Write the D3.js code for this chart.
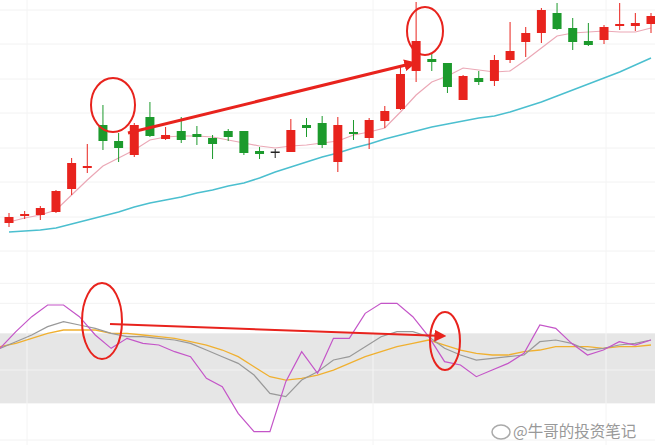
<!DOCTYPE html>
<html><head><meta charset="utf-8">
<script src="https://cdn.jsdelivr.net/npm/d3@7/dist/d3.min.js"></script>
<style>body{margin:0;background:#fff}svg{display:block}</style>
</head><body><svg id="c" width="655" height="445"></svg>
<script>
const open_  = [37,44,45,48,71,92,135,119,105,143,121,129,126,122,129,129,109,108.5,108,135,137,98,128,122,139,151,189,201,197,160,182,179,200,218,227,247,232,219,220,234,234,236];
const high   = [47,49,54,70,102,116,155,127,137,158,133,143,134,125,131,129,113,111,141,142,144,143,140,142,154,193,258,207,197,185,189,205,238,233,252,257,242,237,235,257,247,247];
const low    = [33,41,40,47,65,87,110,98,103,123,120,117,115,101,119,105,101,102,108,123,112,88,120,111,132,150,178,189,167,160,175,174,197,203,217,230,210,214,216,230,229,227];
const close_ = [43,46,52,69,97,94,119,112,135,124,125,120,123,116,123,107,106,108.5,130,132,115,135,126,140,149,186,219,198,173,184,178,200,209,227,250,231,218,215,233,236,237,244];
const maShort = [38,42,45,50,65,80,94,102,110,120,123,124,124,123,120,117,114,112,114,115,117,119,125,128,132,148,165,178,184,192,190,188,189,200,212,224,227,228,229,228,228,232];
const maLong  = [28,29,30,32,36,40,44,48,53,57,60,63,67,70,74,77,82,88,93,98,103,107,112,116,121,125,129,133,136,139,142,144,148,153,158,164,170,176,182,188,195,202];
const kLine = [53,57,61,66,69,67,65,62,60,60,59,58,56,52,48,44,37,26,24,34,39,46,48,54,60,63,63,60,53,49,46,47,48,49,57,58,56,52,53,55,56,58];
const dLine = [54,56,59,62,64,64,64,62,62,61,60,59,57,55,52,48,42,36,34,35,37,40,44,48,51,54,56,58,55,52,50,49,49,51,52,54,54,54,53,54,54,55];
const jLine = [53,63,72,79,79,72,61,53,59,56,55,51,48,35,30,14,3,3,33,51,38,59,59,74,80,80,72,60,45,43,36,40,44,50,67,65,56,49,52,57,55,58];
const gridPrice = [250,216,181,147,112,78,43,9];
const gridInd = [92,80,40,-2];
const vLines = [27,373,606];

const svg = d3.select('#c');
const n = open_.length;
const x = d3.scaleLinear().domain([0,n-1]).range([9,651]);
const xi = d3.scaleLinear().domain([0,n-1]).range([0,651]);
const y = d3.scaleLinear().domain([0,260]).range([260,0]);
const yi = d3.scaleLinear().domain([0,100]).range([436.7,270]);

svg.selectAll('.gp').data(gridPrice).enter().append('line')
  .attr('x1',0).attr('x2',655).attr('y1',d=>y(d)).attr('y2',d=>y(d)).attr('stroke','#f2f2f2');
svg.append('rect').attr('x',0).attr('width',655).attr('y',yi(62)).attr('height',yi(20)-yi(62)).attr('fill','#e6e6e6');
svg.selectAll('.gi').data(gridInd).enter().append('line')
  .attr('x1',0).attr('x2',655).attr('y1',d=>yi(d)).attr('y2',d=>yi(d)).attr('stroke','#f2f2f2');
svg.selectAll('.v').data(vLines).enter().append('line')
  .attr('x1',d=>d).attr('x2',d=>d).attr('y1',0).attr('y2',445).attr('stroke','#f4f4f4');

const lineP = arr => d3.line().x((d,i)=>x(i)).y(d=>y(d))(arr);
svg.append('path').attr('d',lineP(maLong)).attr('fill','none').attr('stroke','#4bbfcf').attr('stroke-width',1.5);
svg.append('path').attr('d',lineP(maShort)).attr('fill','none').attr('stroke','#eba8b6').attr('stroke-width',1.2);

const col = i => close_[i]>open_[i]?'#e8231d':(close_[i]<open_[i]?'#1c9a2c':'#222');
const idx = d3.range(n);
svg.selectAll('.w').data(idx).enter().append('line')
  .attr('x1',i=>x(i)).attr('x2',i=>x(i)).attr('y1',i=>y(high[i])).attr('y2',i=>y(low[i]))
  .attr('stroke',col).attr('stroke-width',1);
svg.selectAll('.b').data(idx).enter().append('rect')
  .attr('x',i=>x(i)-4.5).attr('width',9)
  .attr('y',i=>y(Math.max(open_[i],close_[i])))
  .attr('height',i=>Math.max(1.5,Math.abs(y(open_[i])-y(close_[i]))))
  .attr('fill',col);

const lineI = arr => d3.line().x((d,i)=>xi(i)).y(d=>yi(d))(arr);
svg.append('path').attr('d',lineI(dLine)).attr('fill','none').attr('stroke','#f0b030').attr('stroke-width',1.3);
svg.append('path').attr('d',lineI(kLine)).attr('fill','none').attr('stroke','#999').attr('stroke-width',1.2);
svg.append('path').attr('d',lineI(jLine)).attr('fill','none').attr('stroke','#c455c8').attr('stroke-width',1.2);

const red='#e8231d';
const defs=svg.append('defs');
defs.append('marker').attr('id','ah').attr('viewBox','0 0 10 10').attr('refX',8).attr('refY',5)
  .attr('markerWidth',4).attr('markerHeight',4).attr('orient','auto')
  .append('path').attr('d','M0,0L10,5L0,10z').attr('fill',red);
defs.append('marker').attr('id','ah2').attr('viewBox','0 0 10 10').attr('refX',8).attr('refY',5)
  .attr('markerWidth',6).attr('markerHeight',6).attr('orient','auto')
  .append('path').attr('d','M0,0L10,5L0,10z').attr('fill',red);
svg.append('line').attr('x1',128).attr('y1',133).attr('x2',414).attr('y2',63).attr('stroke',red).attr('stroke-width',3).attr('marker-end','url(#ah)');
svg.append('line').attr('x1',110).attr('y1',324).attr('x2',444).attr('y2',336).attr('stroke',red).attr('stroke-width',2).attr('marker-end','url(#ah2)');
[[113,105,22,27],[425,31,18,24],[102,321,20,38],[445,341,15,29]].forEach(e=>{
  svg.append('ellipse').attr('cx',e[0]).attr('cy',e[1]).attr('rx',e[2]).attr('ry',e[3])
    .attr('fill','none').attr('stroke',red).attr('stroke-width',2);
});

svg.append('ellipse').attr('cx',501).attr('cy',432).attr('rx',9).attr('ry',7).attr('fill','none').attr('stroke','#aaa').attr('stroke-width',1.5);
svg.append('text').attr('x',513).attr('y',437).attr('font-family','Noto Sans CJK SC').attr('font-size',15.5)
  .attr('fill','#999').text('@牛哥的投资笔记');
</script></body></html>
